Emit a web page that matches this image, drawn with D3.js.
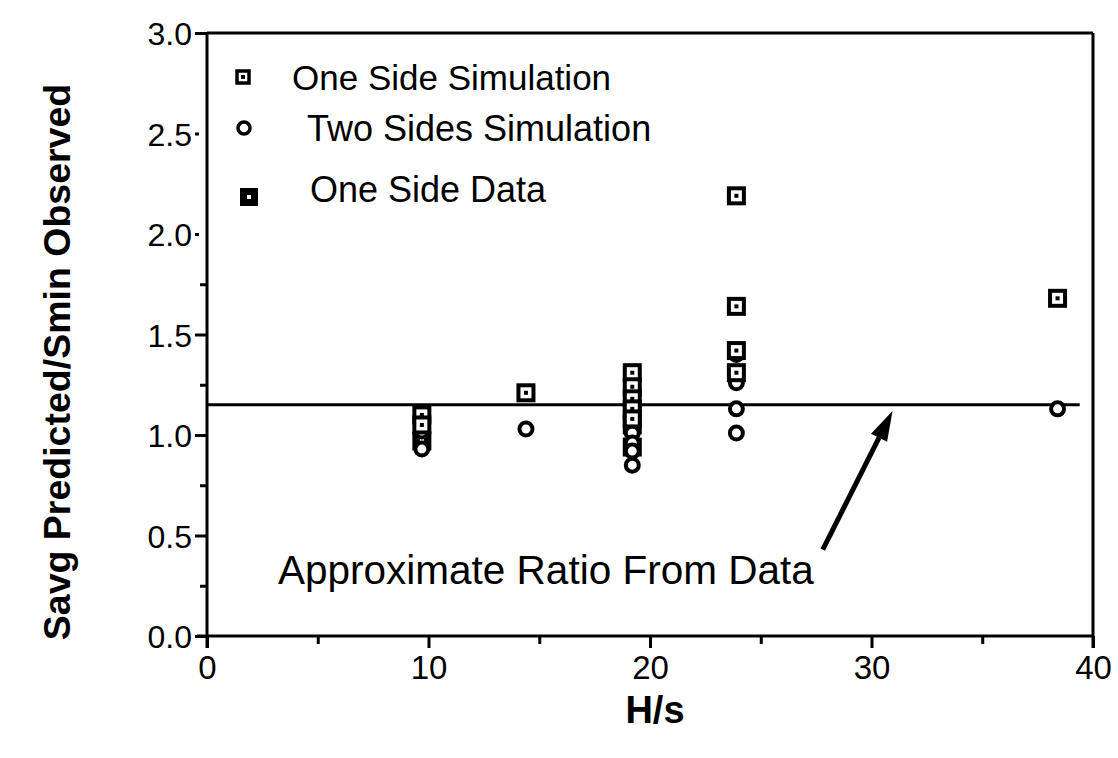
<!DOCTYPE html>
<html><head><meta charset="utf-8">
<script src="https://cdn.jsdelivr.net/npm/d3@7"></script>
<style>body{margin:0;background:#fff}svg{display:block}text{font-family:"Liberation Sans",Arial,sans-serif;fill:#000}</style>
</head><body><svg id="c" width="1118" height="758"></svg>
<script>
// Data
const oneSideSimX = [9.7, 9.7, 14.4, 19.2, 19.2, 19.2, 19.2, 19.2, 23.9, 23.9, 23.9, 23.9, 38.4];
const oneSideSimY = [1.10, 1.05, 1.21, 1.31, 1.24, 1.18, 1.13, 1.08, 2.19, 1.64, 1.42, 1.31, 1.68];
const twoSidesX = [9.7, 9.7, 14.4, 19.2, 19.2, 19.2, 19.2, 23.9, 23.9, 23.9, 23.9, 38.4];
const twoSidesY = [1.02, 0.93, 1.03, 1.01, 0.96, 0.92, 0.85, 1.40, 1.26, 1.13, 1.01, 1.13];
const oneSideDataX = [9.7, 19.2, 19.2];
const oneSideDataY = [0.97, 1.05, 0.94];
const xTicks = [0, 10, 20, 30, 40];
const yTicks = [0.0, 0.5, 1.0, 1.5, 2.0, 2.5, 3.0];
const refRatio = 1.15;
const legendLabels = ["One Side Simulation", "Two Sides Simulation", "One Side Data"];
const annotation = "Approximate Ratio From Data";

const svg = d3.select("#c");
const x = d3.scaleLinear().domain([0, 40]).range([207, 1093]);
const y = d3.scaleLinear().domain([0, 3]).range([636, 33]);
const g = svg.append("g");
const sw = 3;

// frame
g.append("line").attr("x1", x(0)).attr("x2", x(40)).attr("y1", y(3)).attr("y2", y(3)).attr("stroke", "#000").attr("stroke-width", sw);
g.append("line").attr("x1", x(40)).attr("x2", x(40)).attr("y1", y(3)).attr("y2", y(0)+12).attr("stroke", "#000").attr("stroke-width", sw);
g.append("line").attr("x1", x(0)-10).attr("x2", x(40)).attr("y1", y(0)).attr("y2", y(0)).attr("stroke", "#000").attr("stroke-width", sw);
g.append("line").attr("x1", x(0)).attr("x2", x(0)).attr("y1", y(3)).attr("y2", y(0)+12).attr("stroke", "#000").attr("stroke-width", sw);

// x axis
const xa = d3.axisBottom(x).tickValues(xTicks).tickSize(12).tickPadding(4).tickFormat(d3.format("d"));
const xg = g.append("g").attr("transform", `translate(0,${y(0)})`).call(xa);
xg.select(".domain").remove();
xg.selectAll(".tick line").attr("stroke-width", sw);
xg.selectAll(".tick text").attr("font-size", 33).attr("dy", "0.82em");
const xm = d3.axisBottom(x).tickValues([5, 15, 25, 35]).tickSize(8).tickFormat("");
const xmg = g.append("g").attr("transform", `translate(0,${y(0)})`).call(xm);
xmg.select(".domain").remove();
xmg.selectAll(".tick line").attr("stroke-width", sw);

// y axis
const ya = d3.axisLeft(y).tickValues(yTicks).tickSize(12).tickPadding(3).tickFormat(d3.format(".1f"));
const yg = g.append("g").attr("transform", `translate(${x(0)},0)`).call(ya);
yg.select(".domain").remove();
yg.selectAll(".tick line").attr("stroke-width", sw)
  .attr("x1", d => (d === 2.0 || d === 2.5) ? -8 : 0);
yg.selectAll(".tick text").attr("font-size", 32).attr("dy", "0.36em");
const ym = d3.axisLeft(y).tickValues([0.25, 0.75, 1.25, 1.75]).tickSize(7).tickFormat("");
const ymg = g.append("g").attr("transform", `translate(${x(0)},0)`).call(ym);
ymg.select(".domain").remove();
ymg.selectAll(".tick line").attr("stroke-width", sw);

// axis titles
svg.append("text").attr("x", 655).attr("y", 723).attr("text-anchor", "middle").attr("font-size", 38).attr("font-weight", "bold").text("H/s");
svg.append("text").attr("transform", `translate(70,362) rotate(-90)`).attr("text-anchor", "middle").attr("font-size", 37.5).attr("font-weight", "bold").text("Savg Predicted/Smin Observed");

// reference line
g.append("line").attr("x1", x(0)).attr("x2", x(39.4)).attr("y1", y(refRatio)).attr("y2", y(refRatio)).attr("stroke", "#000").attr("stroke-width", sw);

// markers
function openSquare(sel, cx, cy, s, w) {
  sel.append("rect").attr("x", cx-s/2).attr("y", cy-s/2).attr("width", s).attr("height", s).attr("fill", "#fff").attr("stroke", "#000").attr("stroke-width", w);
  sel.append("rect").attr("x", cx-2).attr("y", cy-2).attr("width", 4).attr("height", 4).attr("fill", "#000");
}
function openCircle(sel, cx, cy, r, w) {
  sel.append("circle").attr("cx", cx).attr("cy", cy).attr("r", r).attr("fill", "#fff").attr("stroke", "#000").attr("stroke-width", w);
}
function dataSquare(sel, cx, cy, s) {
  sel.append("rect").attr("x", cx-s/2).attr("y", cy-s/2).attr("width", s).attr("height", s).attr("fill", "#000");
  sel.append("rect").attr("x", cx-2).attr("y", cy-2).attr("width", 4).attr("height", 4).attr("fill", "#fff");
}
const mg = g.append("g");
oneSideDataX.forEach((v, i) => dataSquare(mg, x(v), y(oneSideDataY[i]), 19));
twoSidesX.forEach((v, i) => openCircle(mg, x(v), y(twoSidesY[i]), 6.5, 4));
oneSideSimX.forEach((v, i) => openSquare(mg, x(v), y(oneSideSimY[i]), 15, 4));

// legend
const lg = svg.append("g");
openSquare(lg, 243, 77, 12, 3.5);
openCircle(lg, 244, 128, 6, 3.5);
dataSquare(lg, 249, 197, 18);
lg.append("text").attr("x", 292).attr("y", 90).attr("font-size", 35).text(legendLabels[0]);
lg.append("text").attr("x", 307).attr("y", 141).attr("font-size", 36).text(legendLabels[1]);
lg.append("text").attr("x", 310).attr("y", 202).attr("font-size", 36).text(legendLabels[2]);

// annotation
svg.append("text").attr("x", 278).attr("y", 584).attr("font-size", 40.5).text(annotation);
const ax0 = x(27.8), ay0 = y(0.43), ax1 = x(30.95), ay1 = y(1.12);
const ang = Math.atan2(ay1 - ay0, ax1 - ax0);
const hl = 30, hw = 9;
const bx = ax1 - hl * Math.cos(ang), by = ay1 - hl * Math.sin(ang);
svg.append("line").attr("x1", ax0).attr("y1", ay0).attr("x2", bx).attr("y2", by).attr("stroke", "#000").attr("stroke-width", 5);
svg.append("path").attr("d", d3.line()([[ax1, ay1], [bx + hw * Math.sin(ang), by - hw * Math.cos(ang)], [bx - hw * Math.sin(ang), by + hw * Math.cos(ang)]]) + "Z").attr("fill", "#000");
</script></body></html>
